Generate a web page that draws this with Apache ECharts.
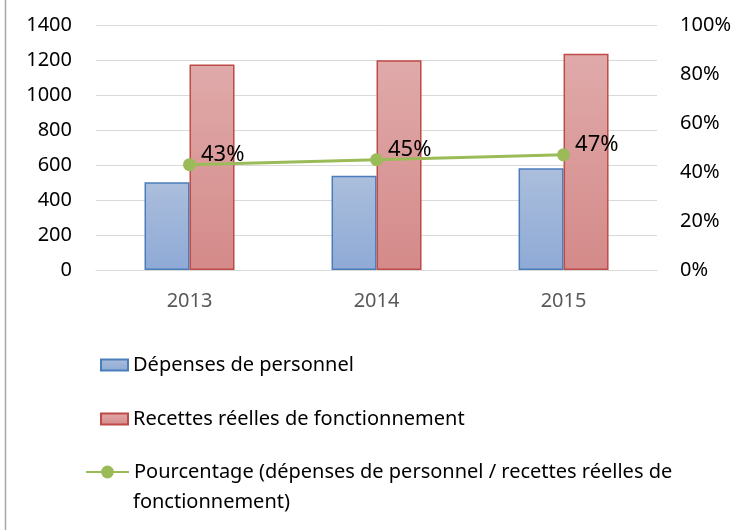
<!DOCTYPE html>
<html>
<head>
<meta charset="utf-8">
<script src="https://cdn.jsdelivr.net/npm/echarts@6/dist/echarts.min.js"></script>
<style>
html, body { margin: 0; padding: 0; background: #fff; }
#chart { width: 734px; height: 530px; }
</style>
</head>
<body>
<div id="chart"></div>
<script>
// données
var annees = ['2013', '2014', '2015'];
var depenses = [501, 539, 581];
var recettes = [1175, 1198, 1236];
var pourcentage = [43, 45, 47];

var nomDep = 'Dépenses de personnel';
var nomRec = 'Recettes réelles de fonctionnement';
var nomPct = 'Pourcentage (dépenses de personnel / recettes réelles de fonctionnement)';

var police = 'Noto Sans';
var myChart = echarts.init(document.getElementById('chart'));

var styleLegende = { fontSize: 20, color: '#000', fontFamily: police };

var option = {
    animation: false,
    textStyle: { fontFamily: police },
    grid: { left: 96, right: 75, top: 25, bottom: 260, containLabel: false },
    legend: [{
        orient: 'vertical', left: 100, top: 355, padding: 0,
        itemWidth: 27, itemHeight: 11, itemGap: 0,
        icon: 'rect',
        textStyle: styleLegende,
        data: [nomDep]
    }, {
        orient: 'vertical', left: 100, top: 409, padding: 0,
        itemWidth: 27, itemHeight: 11, itemGap: 0,
        icon: 'rect',
        textStyle: styleLegende,
        data: [nomRec]
    }, {
        orient: 'vertical', left: 85, top: 462, padding: 0,
        itemWidth: 43, itemHeight: 16, itemGap: 0,
        textStyle: styleLegende,
        formatter: function () {
            return 'Pourcentage (dépenses de personnel / recettes réelles de';
        },
        data: [nomPct]
    }],
    xAxis: {
        type: 'category',
        data: annees,
        axisLine: { lineStyle: { color: '#d9d9d9' } },
        axisTick: { show: false },
        axisLabel: { color: '#595959', fontSize: 20, margin: 21 }
    },
    yAxis: [{
        type: 'value', min: 0, max: 1400, interval: 200,
        axisLine: { show: false }, axisTick: { show: false },
        splitLine: { lineStyle: { color: '#d9d9d9' } },
        axisLabel: { color: '#000', fontSize: 20, margin: 24, formatter: function (v) { return String(v); } }
    }, {
        type: 'value', min: 0, max: 100, interval: 20,
        axisLine: { show: false }, axisTick: { show: false },
        splitLine: { show: false },
        axisLabel: { color: '#000', fontSize: 20, margin: 23, formatter: '{value}%' }
    }],
    series: [{
        name: nomDep, type: 'bar', data: depenses,
        barWidth: 45, barGap: '0%',
        itemStyle: {
            color: new echarts.graphic.LinearGradient(0, 0, 0, 1, [
                { offset: 0, color: '#abbedc' }, { offset: 1, color: '#8eaad6' }]),
            borderColor: '#4a7ebb', borderWidth: 1.5
        }
    }, {
        name: nomRec, type: 'bar', data: recettes,
        barWidth: 45, barGap: '0%',
        itemStyle: {
            color: new echarts.graphic.LinearGradient(0, 0, 0, 1, [
                { offset: 0, color: '#e0aaaa' }, { offset: 1, color: '#d48a89' }]),
            borderColor: '#be4b48', borderWidth: 1.5
        }
    }, {
        name: nomPct, type: 'line', yAxisIndex: 1, data: pourcentage,
        symbol: 'circle', symbolSize: 13,
        lineStyle: { color: '#9bbb59', width: 3 },
        itemStyle: { color: '#9bbb59' },
        label: {
            show: true, position: 'right', distance: 5, offset: [0, -10],
            fontSize: 22, color: '#000', formatter: '{c}%'
        }
    }],
    graphic: [{
        type: 'line', shape: { x1: 5.5, y1: 0, x2: 5.5, y2: 530 },
        style: { stroke: '#a6a6a6', lineWidth: 1.5 }
    }, {
        type: 'text', left: 133, top: 492,
        style: { text: 'fonctionnement)', font: '20px "Noto Sans"', fill: '#000' }
    }]
};

myChart.setOption(option, true);
</script>
</body>
</html>
